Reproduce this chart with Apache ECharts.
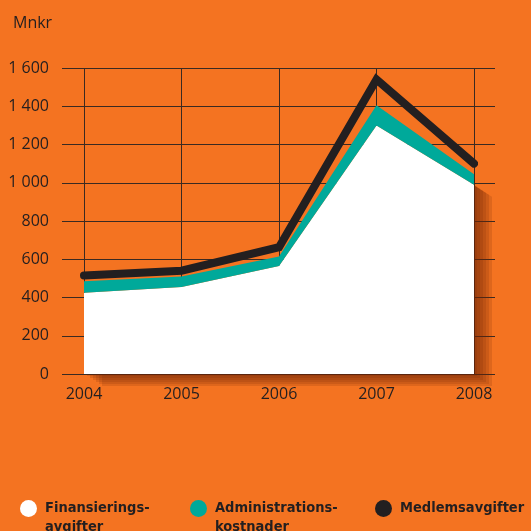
<!DOCTYPE html>
<html><head><meta charset="utf-8">
<script src="https://cdn.jsdelivr.net/npm/echarts@6/dist/echarts.min.js"></script>
<style>html,body{margin:0;padding:0;background:#f47321}#c{width:531px;height:531px}</style>
</head><body><div id="c"></div>
<script>
const years = ['2004','2005','2006','2007','2008'];
const finansieringsavgifter = [425, 455, 565, 1300, 990];
const administrationskostnader = [60, 55, 50, 105, 55];
const medlemsavgifter = [30, 30, 48, 135, 55];
const yTicks = [0, 200, 400, 600, 800, 1000, 1200, 1400, 1600];
const names = ['Finansierings-\navgifter', 'Administrations-\nkostnader', 'Medlemsavgifter'];

const txt = '#231f20';
const gridCol = '#3a2a22';
const legendFont = '"Liberation Sans Narrow", "DejaVu Sans Condensed", sans-serif';
function legendAt(left, name) {
  return {
    left: left, top: 480, padding: 0, icon: 'circle', itemWidth: 17, itemHeight: 17,
    data: [name], selectedMode: false,
    formatter: n => { const s = '\n' + n; return s.split('\n').length < 3 ? s + '\n ' : s; },
    textStyle: { color: txt, fontFamily: legendFont, fontWeight: 'bold', fontSize: 14.5, lineHeight: 19, padding: [0, 0, 0, 3] }
  };
}
// soft drop shadow of the white area: a few offset copies (layout offsets in px)
const shadowSteps = [[3, 2], [6, 4], [9, 6], [12, 8], [15, 10], [18, 12]];
const grids = [
  { left: 62, right: 36, top: 68, bottom: 157 },
  { left: 84, right: 57, top: 68, bottom: 157 }
];
const xAxes = [
  { type: 'value', gridIndex: 0, show: false, min: 0, max: 1 },
  { type: 'category', gridIndex: 1, data: years, boundaryGap: false,
    axisLine: { show: false }, axisTick: { show: false },
    axisLabel: { color: txt, fontFamily: 'Open Sans', fontSize: 16, margin: 12 },
    splitLine: { show: true, lineStyle: { color: gridCol, width: 1 } } }
];
const yAxes = [
  { type: 'value', gridIndex: 0, min: 0, max: 1600, interval: 200,
    axisLine: { show: false }, axisTick: { show: false },
    axisLabel: { color: txt, fontFamily: 'Open Sans', fontSize: 16, margin: 13,
      formatter: v => v >= 1000 ? Math.floor(v / 1000) + ' ' + String(v % 1000).padStart(3, '0') : String(v) },
    splitLine: { show: true, lineStyle: { color: gridCol, width: 1 } } },
  { type: 'value', gridIndex: 1, min: 0, max: 1600, interval: 200, show: false, splitLine: { show: false } }
];
const series = [];
shadowSteps.forEach(([dx, dy], i) => {
  const gi = grids.length;
  grids.push({ left: 84 + dx, right: 57 - dx, top: 68 + dy, bottom: 157 - dy });
  xAxes.push({ type: 'category', gridIndex: gi, data: years, boundaryGap: false, show: false });
  yAxes.push({ type: 'value', gridIndex: gi, min: 0, max: 1600, show: false, splitLine: { show: false } });
  series.push({ name: 'skugga' + i, type: 'line', xAxisIndex: gi, yAxisIndex: gi, data: finansieringsavgifter,
    symbol: 'none', clip: false, silent: true, lineStyle: { width: 0 },
    areaStyle: { color: 'rgba(115,40,5,0.16)', opacity: 1 }, z: 1 });
});
series.push(
  { name: names[0], type: 'line', xAxisIndex: 1, yAxisIndex: 1, stack: 'tot', data: finansieringsavgifter,
    symbol: 'none', clip: false, itemStyle: { color: '#ffffff' }, lineStyle: { width: 0 },
    areaStyle: { color: '#ffffff', opacity: 1 }, z: 2 },
  { name: names[1], type: 'line', xAxisIndex: 1, yAxisIndex: 1, stack: 'tot', data: administrationskostnader,
    symbol: 'none', clip: false, itemStyle: { color: '#00a99a' }, lineStyle: { width: 0 },
    areaStyle: { color: '#00a99a', opacity: 1 }, z: 3 },
  { name: names[2], type: 'line', xAxisIndex: 1, yAxisIndex: 1, stack: 'tot', data: medlemsavgifter,
    symbol: 'none', clip: false, itemStyle: { color: '#231f20' },
    lineStyle: { width: 8, color: '#231f20', cap: 'round', join: 'miter' }, z: 4 }
);
const chart = echarts.init(document.getElementById('c'));
chart.setOption({
  backgroundColor: '#f47321',
  animation: false,
  title: { text: 'Mnkr', left: 8, top: 10, textStyle: { color: txt, fontFamily: 'Open Sans', fontWeight: 'normal', fontSize: 16 } },
  legend: [legendAt(20, names[0]), legendAt(190, names[1]), legendAt(375, names[2])],
  grid: grids, xAxis: xAxes, yAxis: yAxes, series: series
});
</script></body></html>
